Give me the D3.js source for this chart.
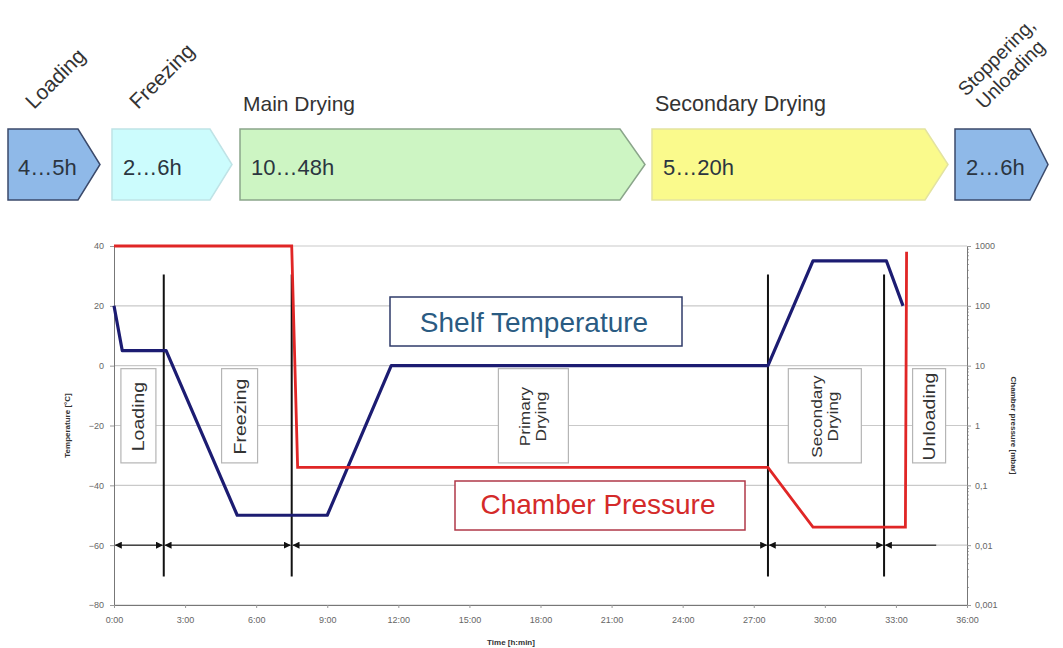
<!DOCTYPE html>
<html>
<head>
<meta charset="utf-8">
<script src="https://cdn.jsdelivr.net/npm/d3@7"></script>
<style>
  body { margin: 0; background: #fff; }
  svg { font-family: "Liberation Sans", Arial, sans-serif; }
</style>
</head>
<body>
<svg id="chart" width="1063" height="648"></svg>
<script>
// process steps in the header
let stepNames = ["4…5h", "2…6h", "10…48h", "5…20h", "2…6h"]
let stepTitles = [["Loading"], ["Freezing"], ["Main Drying"], ["Secondary Drying"], ["Stoppering,", "Unloading"]]

// x axis (hours)
let timeTicks = [0, 3, 6, 9, 12, 15, 18, 21, 24, 27, 30, 33, 36]
let tempTicks = [-80, -60, -40, -20, 0, 20, 40]
let pressTicks = [0.001, 0.01, 0.1, 1, 10, 100, 1000]
let pressTickLabels = ["0,001", "0,01", "0,1", "1", "10", "100", "1000"]

// shelf temperature curve
let shelfTime = [0, 0.35, 2.2, 5.2, 9.0, 11.7, 27.6, 29.5, 32.6, 33.3]
let shelfTemp = [20, 5, 5, -50, -50, 0, 0, 35, 35, 20]

// chamber pressure curve (mbar)
let pressTime = [0, 7.5, 7.75, 27.6, 29.5, 33.4, 33.45]
let pressure = [1000, 1000, 0.2, 0.2, 0.02, 0.02, 800]

// phase borders and labels inside the plot
let phaseBorders = [2.1, 7.5, 27.6, 32.5]
let phaseLabels = [["Loading"], ["Freezing"], ["Primary", "Drying"], ["Secondary", "Drying"], ["Unloading"]]
let phaseCenters = [1.03, 5.3, 17.7, 30.0, 34.4]

let svg = d3.select('#chart')

// ---------- header arrows ----------
let stepBoxes = [
  {x0: 8, x1: 78, tip: 100, fill: '#8fb9e8', stroke: '#3b4a6b'},
  {x0: 112, x1: 210, tip: 232, fill: '#ccfcfd', stroke: '#bfe3e6'},
  {x0: 240, x1: 620, tip: 645, fill: '#cdf5c3', stroke: '#8aa58a'},
  {x0: 652, x1: 925, tip: 948, fill: '#fafa8c', stroke: '#e3e3a0'},
  {x0: 955, x1: 1030, tip: 1048, fill: '#8fb9e8', stroke: '#3b4a6b'}
]
let boxTop = 129, boxBot = 200, boxMid = 164.5

let hdr = svg.append('g')
hdr.selectAll('path.step')
  .data(stepBoxes)
  .enter()
  .append('path')
  .attr('class', 'step')
  .attr('d', d => `M${d.x0},${boxTop}L${d.x1},${boxTop}L${d.tip},${boxMid}L${d.x1},${boxBot}L${d.x0},${boxBot}Z`)
  .attr('fill', d => d.fill)
  .attr('stroke', d => d.stroke)
  .attr('stroke-width', 1.5)

hdr.selectAll('text.dur')
  .data(stepNames)
  .enter()
  .append('text')
  .attr('class', 'dur')
  .attr('x', (d, i) => stepBoxes[i].x0 + (i == 0 ? 10 : 11))
  .attr('y', 175)
  .attr('font-size', 22)
  .attr('fill', '#2b3540')
  .text(d => d)

// rotated / flat titles above the arrows
let titlePos = [
  {x: 34, y: 110, rot: -45, fs: 21},
  {x: 138, y: 110, rot: -45, fs: 21},
  {x: 243, y: 111, rot: 0, fs: 21},
  {x: 655, y: 111, rot: 0, fs: 21.5},
  {x: 966, y: 97, rot: -45, fs: 19.5}
]
stepTitles.forEach((lines, i) => {
  let p = titlePos[i]
  let t = hdr.append('text')
    .attr('transform', `translate(${p.x},${p.y}) rotate(${p.rot})`)
    .attr('font-size', p.fs)
    .attr('fill', '#333')
  lines.forEach((l, j) => {
    t.append('tspan').attr('x', j * 3.5).attr('dy', j ? 22 : 0).text(l)
  })
})

// ---------- plot ----------
let x = d3.scaleLinear().domain([0, 36]).range([114, 967])
let yT = d3.scaleLinear().domain([-80, 40]).range([605, 246])
let yP = d3.scaleLog().domain([0.001, 1000]).range([605, 246])

let plot = svg.append('g')

// gridlines
plot.selectAll('line.grid')
  .data(tempTicks)
  .enter()
  .append('line')
  .attr('class', 'grid')
  .attr('x1', x(0)).attr('x2', x(36))
  .attr('y1', d => yT(d)).attr('y2', d => yT(d))
  .attr('stroke', '#c9c9c9')
  .attr('stroke-width', 1.2)

let styleAxis = g => {
  g.select('.domain').attr('stroke', '#777')
  g.selectAll('.tick line').attr('stroke', '#999')
  g.selectAll('.tick text').attr('font-size', 9).attr('fill', '#666').attr('font-family', 'Liberation Sans, Arial')
}

// left axis
let axL = d3.axisLeft(yT).tickValues(tempTicks).tickSize(4).tickPadding(6)
plot.append('g')
  .attr('transform', `translate(${x(0)},0)`)
  .call(axL)
  .call(styleAxis)

// right axis, with log minor ticks
let minor = yP.ticks().filter(d => pressTicks.indexOf(d) < 0)
plot.append('g')
  .attr('transform', `translate(${x(36)},0)`)
  .call(d3.axisRight(yP).tickValues(minor).tickSize(2).tickFormat(''))
  .call(g => g.select('.domain').remove())
  .call(g => g.selectAll('.tick line').attr('stroke', '#aaa'))
let axR = d3.axisRight(yP).tickValues(pressTicks).tickFormat((d, i) => pressTickLabels[i]).tickSize(4).tickPadding(4)
plot.append('g')
  .attr('transform', `translate(${x(36)},0)`)
  .call(axR)
  .call(styleAxis)

// bottom axis
let axB = d3.axisBottom(x).tickValues(timeTicks).tickFormat(d => d + ':00').tickSize(3).tickPadding(9)
plot.append('g')
  .attr('transform', `translate(0,${yT(-80)})`)
  .call(axB)
  .call(styleAxis)

// axis titles
plot.append('text')
  .attr('transform', `translate(70,${yT(-20)}) rotate(-90)`)
  .attr('text-anchor', 'middle')
  .attr('font-size', 8).attr('font-weight', 'bold').attr('fill', '#333')
  .text('Temperature [°C]')
plot.append('text')
  .attr('transform', `translate(1011,${yT(-20)}) rotate(90)`)
  .attr('text-anchor', 'middle')
  .attr('font-size', 8).attr('font-weight', 'bold').attr('fill', '#333')
  .text('Chamber pressure [mbar]')
plot.append('text')
  .attr('x', 511).attr('y', 645)
  .attr('text-anchor', 'middle')
  .attr('font-size', 8).attr('font-weight', 'bold').attr('fill', '#333')
  .text('Time [h:min]')

// phase label boxes
let boxW = [35, 36, 70, 73, 33]
phaseLabels.forEach((lines, i) => {
  let cx = x(phaseCenters[i])
  let w = boxW[i]
  plot.append('rect')
    .attr('x', cx - w / 2).attr('y', yT(-1))
    .attr('width', w).attr('height', yT(-32.5) - yT(-1))
    .attr('fill', '#fff').attr('stroke', '#b5b5b5').attr('stroke-width', 1.2)
  let two = lines.length == 2
  let fs = two ? 15 : 17
  let t = plot.append('text')
    .attr('transform', `translate(${cx},${yT(-17)}) rotate(-90) scale(1.15,1)`)
    .attr('text-anchor', 'middle')
    .attr('font-size', fs).attr('fill', '#333')
  lines.forEach((l, j) => {
    t.append('tspan').attr('x', 0)
      .attr('dy', two ? (j ? fs * 1.05 : -fs * 0.2) : fs * 0.35)
      .text(l)
  })
})

// legend boxes
plot.append('rect')
  .attr('x', 390).attr('y', 297).attr('width', 292).attr('height', 49)
  .attr('fill', '#fff').attr('stroke', '#2f3b6a').attr('stroke-width', 1.5)
plot.append('text')
  .attr('x', 534).attr('y', 332).attr('text-anchor', 'middle')
  .attr('font-size', 28).attr('fill', '#2a5b82')
  .text('Shelf Temperature')
plot.append('rect')
  .attr('x', 455).attr('y', 481).attr('width', 290).attr('height', 49)
  .attr('fill', '#fff').attr('stroke', '#b03848').attr('stroke-width', 1.5)
plot.append('text')
  .attr('x', 598).attr('y', 514).attr('text-anchor', 'middle')
  .attr('font-size', 28).attr('fill', '#d42a2a')
  .text('Chamber Pressure')

// dimension arrows along -60
let defs = svg.append('defs')
defs.append('marker')
  .attr('id', 'arr')
  .attr('viewBox', '0 0 10 10')
  .attr('refX', 9).attr('refY', 5)
  .attr('markerWidth', 7).attr('markerHeight', 7)
  .attr('markerUnits', 'userSpaceOnUse')
  .attr('orient', 'auto-start-reverse')
  .append('path').attr('d', 'M0,0L10,5L0,10Z').attr('fill', '#111')

let segStarts = [0].concat(phaseBorders)
let segEnds = phaseBorders.concat([34.7])
plot.selectAll('line.dim')
  .data(segStarts)
  .enter()
  .append('line')
  .attr('class', 'dim')
  .attr('x1', d => x(d) + 1.5)
  .attr('x2', (d, i) => x(segEnds[i]) - (i < phaseBorders.length ? 1.5 : 0))
  .attr('y1', yT(-60)).attr('y2', yT(-60))
  .attr('stroke', '#444').attr('stroke-width', 1.5)
  .attr('marker-start', 'url(#arr)')
  .attr('marker-end', (d, i) => i < phaseBorders.length ? 'url(#arr)' : null)

// phase border lines
plot.selectAll('line.border')
  .data(phaseBorders)
  .enter()
  .append('line')
  .attr('class', 'border')
  .attr('x1', d => x(d)).attr('x2', d => x(d))
  .attr('y1', yT(30.5)).attr('y2', yT(-70.5))
  .attr('stroke', '#111').attr('stroke-width', 2)

// curves
let shelfLine = d3.line().x(d => x(d[0])).y(d => yT(d[1]))
plot.append('path')
  .datum(d3.zip(shelfTime, shelfTemp))
  .attr('d', shelfLine)
  .attr('fill', 'none')
  .attr('stroke', '#1c1c72')
  .attr('stroke-width', 3.2)
  .attr('stroke-linejoin', 'round')

let pressLine = d3.line().x(d => x(d[0])).y(d => yP(d[1]))
plot.append('path')
  .datum(d3.zip(pressTime, pressure))
  .attr('d', pressLine)
  .attr('fill', 'none')
  .attr('stroke', '#e02626')
  .attr('stroke-width', 2.8)
</script>
</body>
</html>
